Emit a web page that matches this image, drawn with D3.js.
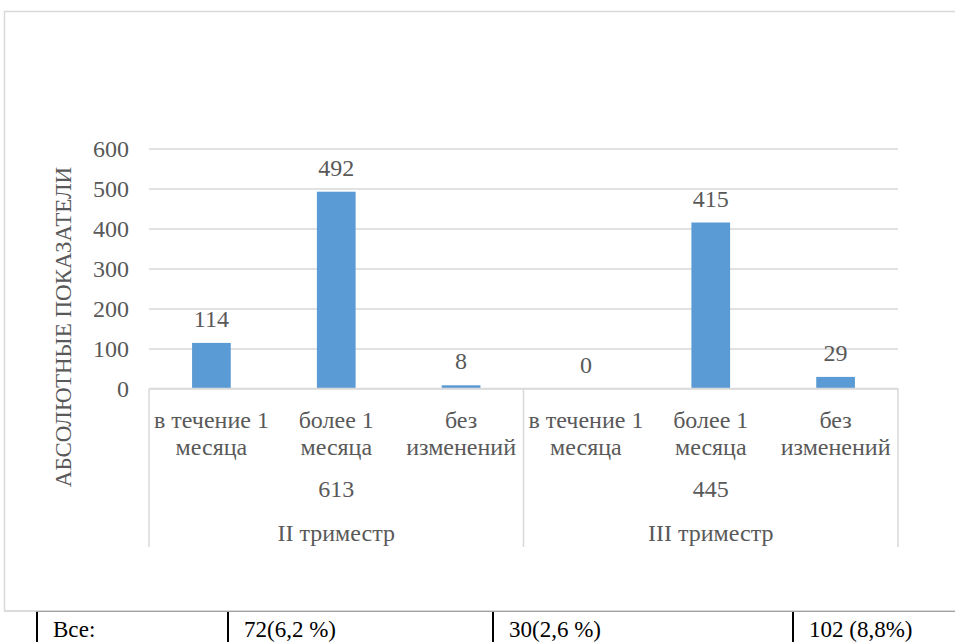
<!DOCTYPE html>
<html>
<head>
<meta charset="utf-8">
<script src="https://cdn.jsdelivr.net/npm/d3@7/dist/d3.min.js"></script>
<style>
  html, body { margin: 0; padding: 0; background: #fff; }
  svg { display: block; }
</style>
</head>
<body>
<svg id="chart" width="955" height="642"></svg>
<script>
// Outcome categories within each trimester
const categories = [
  ["в течение 1", "месяца"],
  ["более 1", "месяца"],
  ["без", "изменений"]
];
const groups = ["II триместр", "III триместр"];
const groupTotals = ["613", "445"];
// Absolute counts, group by group
const values = [114, 492, 8, 0, 415, 29];
const yTicks = [0, 100, 200, 300, 400, 500, 600];
const yTitle = "АБСОЛЮТНЫЕ ПОКАЗАТЕЛИ";
// Summary row under the chart
const summaryRow = ["Все:", "72(6,2 %)", "30(2,6 %)", "102 (8,8%)"];

const serif = "'Liberation Serif'";
const svg = d3.select("#chart").style("font-family", serif);
const textColor = "#595959";
const gridColor = "#d9d9d9";
const barColor = "#5b9bd5";

// Chart frame
svg.append("rect")
  .attr("x", 4.5).attr("y", 11.5)
  .attr("width", 980).attr("height", 599.5)
  .attr("fill", "#fff")
  .attr("stroke", gridColor).attr("stroke-width", 1.5);

const plotLeft = 149, plotRight = 898, plotTop = 148.5, plotBottom = 388.5;

const y = d3.scaleLinear().domain([0, 600]).range([plotBottom, plotTop]);

const flat = [];
groups.forEach((g, gi) => categories.forEach((c, ci) => flat.push({ gi, ci, label: c, value: values[gi * categories.length + ci] })));

const x = d3.scaleBand()
  .domain(d3.range(flat.length))
  .range([plotLeft, plotRight])
  .paddingInner(0).paddingOuter(0);

// Gridlines and tick labels from the y axis
const yAxis = svg.append("g")
  .attr("transform", `translate(${plotLeft},0)`)
  .call(d3.axisLeft(y).tickValues(yTicks).tickSize(-(plotRight - plotLeft)).tickPadding(20));
yAxis.attr("font-family", null).attr("font-size", null);
yAxis.select(".domain").remove();
yAxis.selectAll(".tick line").attr("stroke", gridColor).attr("stroke-width", 1.5);
yAxis.selectAll(".tick text")
  .attr("fill", textColor)
  .style("font-size", "24px")
  .style("font-family", serif);

// Y axis title
svg.append("text")
  .attr("transform", `translate(71, 327) rotate(-90)`)
  .attr("text-anchor", "middle")
  .attr("fill", textColor)
  .style("font-family", serif)
  .style("font-size", "23px")
  .text(yTitle);

// Bars
const barW = x.bandwidth() * 0.31;
svg.append("g").selectAll("rect")
  .data(flat)
  .join("rect")
  .attr("x", (d, i) => x(i) + (x.bandwidth() - barW) / 2)
  .attr("y", d => y(d.value))
  .attr("width", barW)
  .attr("height", d => y(0) - y(d.value))
  .attr("fill", barColor);

// Value labels
svg.append("g").selectAll("text")
  .data(flat)
  .join("text")
  .attr("x", (d, i) => x(i) + x.bandwidth() / 2)
  .attr("y", d => y(d.value) - 16)
  .attr("text-anchor", "middle")
  .attr("fill", textColor)
  .style("font-family", serif)
  .style("font-size", "24px")
  .text(d => d.value);

// Category axis line and group separators
svg.append("line")
  .attr("x1", plotLeft).attr("x2", plotRight)
  .attr("y1", plotBottom).attr("y2", plotBottom)
  .attr("stroke", gridColor).attr("stroke-width", 1.5);

const sepX = [0, categories.length, flat.length].map(i => i < flat.length ? x(i) : plotRight);
svg.append("g").selectAll("line")
  .data(sepX)
  .join("line")
  .attr("x1", d => d).attr("x2", d => d)
  .attr("y1", plotBottom).attr("y2", 547)
  .attr("stroke", gridColor).attr("stroke-width", 1.5);

// Category labels (two lines each)
const catLabels = svg.append("g").selectAll("text")
  .data(flat)
  .join("text")
  .attr("text-anchor", "middle")
  .attr("fill", textColor)
  .style("font-family", serif)
  .style("font-size", "24px");
catLabels.each(function(d, i) {
  const t = d3.select(this);
  const cx = x(i) + x.bandwidth() / 2;
  d.label.forEach((line, li) => {
    t.append("tspan").attr("x", cx).attr("y", 428 + li * 27).text(line);
  });
});

// Group totals and group names
const groupCenter = gi => {
  const a = gi * categories.length, b = a + categories.length;
  return (x(a) + (b < flat.length ? x(b) : plotRight)) / 2;
};
svg.append("g").selectAll("text")
  .data(groupTotals)
  .join("text")
  .attr("x", (d, gi) => groupCenter(gi))
  .attr("y", 497)
  .attr("text-anchor", "middle")
  .attr("fill", textColor)
  .style("font-family", serif)
  .style("font-size", "24px")
  .text(d => d);
svg.append("g").selectAll("text")
  .data(groups)
  .join("text")
  .attr("x", (d, gi) => groupCenter(gi))
  .attr("y", 541)
  .attr("text-anchor", "middle")
  .attr("fill", textColor)
  .style("font-family", serif)
  .style("font-size", "24px")
  .text(d => d);

// Summary table row
const cellEdges = [37, 228, 493, 793, 1000];
const row = svg.append("g");
row.append("line")
  .attr("x1", cellEdges[0]).attr("x2", 955)
  .attr("y1", 611.5).attr("y2", 611.5)
  .attr("stroke", "#000").attr("stroke-width", 1);
row.selectAll("line.v")
  .data(cellEdges.slice(0, 4))
  .join("line")
  .attr("class", "v")
  .attr("x1", d => d).attr("x2", d => d)
  .attr("y1", 611).attr("y2", 642)
  .attr("stroke", "#000").attr("stroke-width", 2);
row.selectAll("text")
  .data(summaryRow)
  .join("text")
  .attr("x", (d, i) => cellEdges[i] + 16)
  .attr("y", 637)
  .attr("fill", "#000")
  .style("font-family", serif)
  .style("font-size", "23px")
  .text(d => d);
// Chart frame bottom edge sits over the table border
svg.append("line")
  .attr("x1", 4.5).attr("x2", 955)
  .attr("y1", 611).attr("y2", 611)
  .attr("stroke", gridColor).attr("stroke-width", 1.5);
</script>
</body>
</html>
